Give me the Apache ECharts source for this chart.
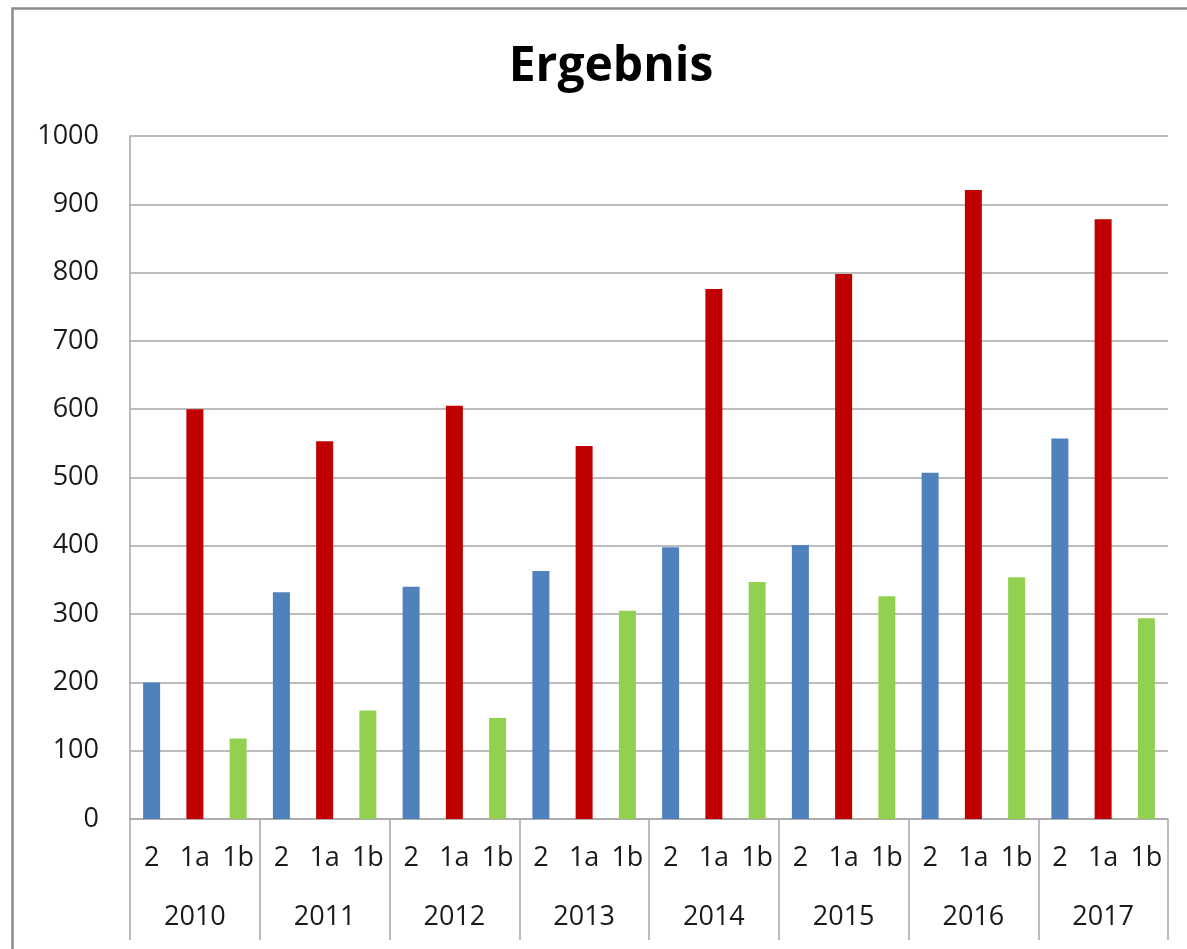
<!DOCTYPE html>
<html>
<head>
<meta charset="utf-8">
<script src="https://cdn.jsdelivr.net/npm/echarts@6/dist/echarts.min.js"></script>
<style>
html,body{margin:0;padding:0;background:#fff;}
#chart{width:1187px;height:949px;}
</style>
</head>
<body>
<div id="chart"></div>
<script>
const years = ['2010','2011','2012','2013','2014','2015','2016','2017'];
const subCats = ['2','1a','1b'];
const values2  = [200, 332, 340, 363, 398, 401, 507, 557];
const values1a = [600, 553, 605, 546, 776, 798, 921, 878];
const values1b = [118, 159, 148, 305, 347, 326, 354, 294];
const subColors = ['#4F81BD', '#C00000', '#92D050'];
const yTicks = [0,100,200,300,400,500,600,700,800,900,1000];

const seriesBySub = [values2, values1a, values1b];
const cats = [];
const data = [];
years.forEach((y, yi) => {
  subCats.forEach((s, si) => {
    cats.push(s);
    data.push({ value: seriesBySub[si][yi], itemStyle: { color: subColors[si] } });
  });
});

const font = '"Open Sans", "Liberation Sans", sans-serif';
const gridColor = '#a6a6a6';

const chart = echarts.init(document.getElementById('chart'), null, {renderer: 'canvas'});
chart.setOption({
  animation: false,
  backgroundColor: '#fff',
  title: {
    text: 'Ergebnis',
    left: 606,
    textAlign: 'center',
    top: 38,
    textStyle: { fontFamily: font, fontSize: 48, fontWeight: 'bold', color: '#000' }
  },
  graphic: [{
    type: 'rect',
    left: 10, top: 6,
    shape: { width: 1200, height: 960 },
    style: { fill: 'none', stroke: '#8c8c8c', lineWidth: 2.5 },
    silent: true
  }],
  grid: { left: 130, right: 19, top: 136, bottom: 130, containLabel: false },
  xAxis: [{
    type: 'category',
    data: cats,
    position: 'bottom',
    axisLine: { show: true, lineStyle: { color: gridColor, width: 1.5 } },
    axisTick: { show: false },
    axisLabel: { interval: 0, margin: 25, fontFamily: font, fontSize: 27, color: '#1a1a1a', lineHeight: 28 }
  }, {
    type: 'category',
    data: years,
    position: 'bottom',
    axisLine: { show: false },
    axisTick: { show: true, interval: 0, alignWithLabel: false, length: 121, lineStyle: { color: gridColor, width: 1.5 } },
    axisLabel: { interval: 0, margin: 84, fontFamily: font, fontSize: 27, color: '#1a1a1a', lineHeight: 28 },
    splitLine: { show: false }
  }],
  yAxis: {
    type: 'value',
    min: 0, max: 1000, interval: 100,
    axisLine: { show: true, lineStyle: { color: gridColor, width: 1.5 } },
    axisTick: { show: false },
    axisLabel: { margin: 31, fontFamily: font, fontSize: 27, color: '#1a1a1a',
      formatter: v => yTicks.includes(v) ? String(v) : '' },
    splitLine: { show: true, lineStyle: { color: gridColor, width: 1.5 } }
  },
  series: [{
    type: 'bar',
    xAxisIndex: 0,
    data: data,
    barWidth: 17
  }]
});
</script>
</body>
</html>
